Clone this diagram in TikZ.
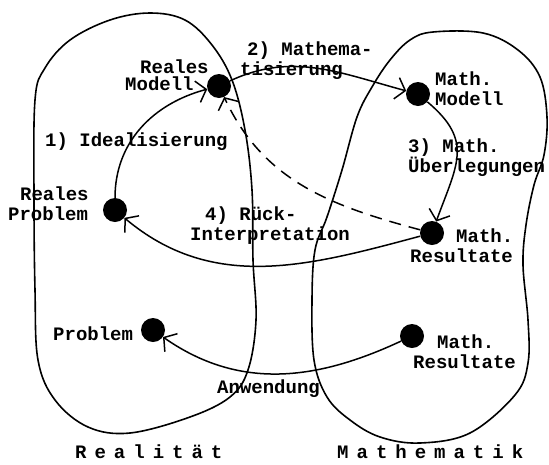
\documentclass[tikz,border=0pt]{standalone}
\usepackage{fontspec}
\setmainfont{Liberation Mono}
\usetikzlibrary{arrows.meta}
\begin{document}
\begin{tikzpicture}[x=1pt,y=1pt,
  lbl/.style={inner sep=0pt, font=\fontsize{19}{20}\selectfont\bfseries, align=left, anchor=north west},
  dot/.style={circle, fill=black, inner sep=0pt, minimum size=24pt},
  con/.style={line width=1.5pt, -{Straight Barb[length=9pt,width=22pt,line width=1.5pt]}},
  blob/.style={line width=1.6pt},
]
\useasboundingbox (0,0) rectangle (549,-464);

% regions
\draw[blob] plot[smooth cycle, tension=0.6] coordinates {
  (35,-100) (45,-68) (70,-40) (110,-20) (150,-13) (185,-20) (212,-45) (232,-80)
  (245,-130) (252,-190) (253,-260) (256,-320) (248,-370) (230,-397) (190,-417)
  (130,-433) (88,-427) (55,-400) (38,-360) (35,-290) (34,-200)};
\draw[blob] plot[smooth cycle, tension=0.6] coordinates {
  (433,-32) (483,-33) (518,-50) (540,-77) (547,-117) (544,-155) (534,-185)
  (526,-225) (523,-265) (528,-320) (528,-363) (515,-395) (470,-433) (420,-443)
  (380,-437) (350,-420) (327,-397) (314,-360) (312,-300) (315,-250) (327,-217)
  (342,-170) (357,-117) (372,-87) (390,-60) (410,-40)};

% dots
\node[dot] (rm) at (219,-86) {};
\node[dot] (mm) at (418,-94) {};
\node[dot] (rp) at (115,-210) {};
\node[dot] (mr) at (432,-233) {};
\node[dot] (pb) at (153,-330) {};
\node[dot] (mr2) at (412,-336) {};

% connectors
\draw[con] (rp) to[out=90, in=195] (rm);
\draw[con] (rm) to[out=25, in=165] (mm);
\draw[con] (mm) to[out=-40, in=70, looseness=1.3] (mr);
\draw[con] (mr) to[out=195, in=-40] (rp);
\draw[con, dashed, dash pattern=on 12pt off 8pt] (mr) to[out=165, in=-65] (rm);
\draw[con] (mr2) to[out=205, in=-35] (pb);

% labels
\node[lbl] (lrm) at (125,-60) {\hspace*{15pt}Reales\\[-3pt]Modell};
\node[lbl] (l2) at (240,-42) {\hspace*{7pt}2) Mathema-\\tisierung};
\node[lbl] (lmm) at (435,-72) {Math.\\Modell};
\node[lbl] (l1) at (45,-133) {1) Idealisierung};
\node[lbl] (l3) at (408,-139) {3) Math.\\Überlegungen};
\node[lbl] (lrp) at (8,-187) {\hspace*{12pt}Reales\\Problem};
\node[lbl] (l4) at (190,-207) {\hspace*{15pt}4) Rück-\\Interpretation};
\node[lbl] (lmr) at (410,-229) {\hspace*{46pt}Math.\\Resultate};
\node[lbl] (lpb) at (53,-327) {Problem};
\node[lbl] (lmr2) at (413,-335) {\hspace*{24pt}Math.\\Resultate};
\node[lbl] (lan) at (217,-380) {Anwendung};
\node[lbl] (lre) at (75,-445) {R\kern8pt e\kern8pt a\kern8pt l\kern8pt i\kern8pt t\kern8pt ä\kern8pt t};
\node[lbl] (lma) at (337,-445) {M\kern8pt a\kern8pt t\kern8pt h\kern8pt e\kern8pt m\kern8pt a\kern8pt t\kern8pt i\kern8pt k};
\end{tikzpicture}
\end{document}
